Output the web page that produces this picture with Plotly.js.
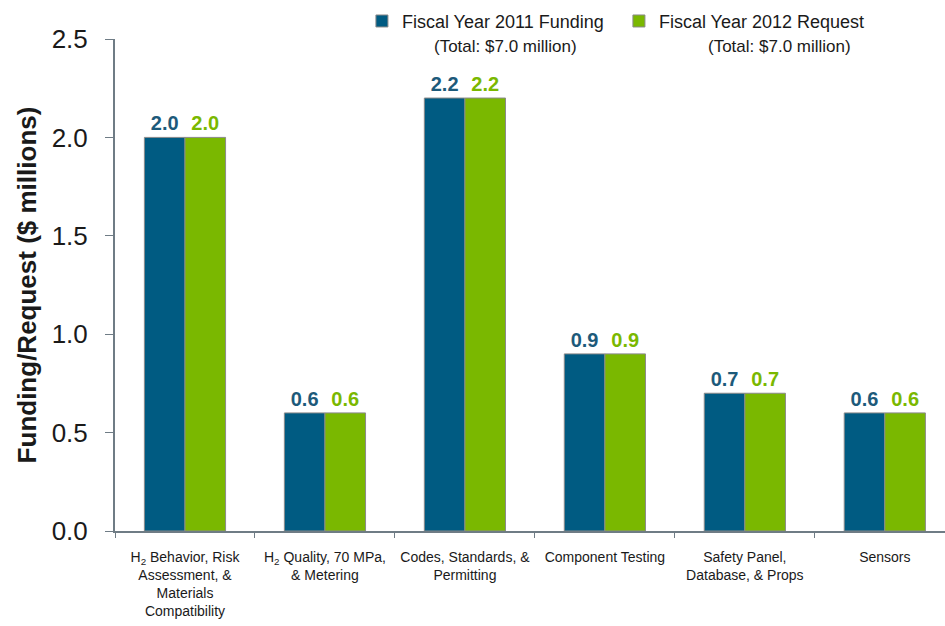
<!DOCTYPE html>
<html>
<head>
<meta charset="utf-8">
<script src="https://cdn.plot.ly/plotly-3.0.1.min.js"></script>
<style>body{margin:0;padding:0;}#chart{width:945px;height:626px;}</style>
</head>
<body>
<div id="chart"></div>
<script>
var categories = [
  "H<sub>2</sub> Behavior, Risk<br>Assessment, &<br>Materials<br>Compatibility",
  "H<sub>2</sub> Quality, 70 MPa,<br>& Metering",
  "Codes, Standards, &<br>Permitting",
  "Component Testing",
  "Safety Panel,<br>Database, & Props",
  "Sensors"
];
var fy2011 = [2.0, 0.6, 2.2, 0.9, 0.7, 0.6];
var fy2012 = [2.0, 0.6, 2.2, 0.9, 0.7, 0.6];
var seriesNames = ["Fiscal Year 2011 Funding", "Fiscal Year 2012 Request"];
var seriesTotals = ["(Total: $7.0 million)", "(Total: $7.0 million)"];
var yTicks = [0, 0.5, 1.0, 1.5, 2.0, 2.5];
var yTickLabels = ["0.0", "0.5", "1.0", "1.5", "2.0", "2.5"];

var FONT = "'Liberation Sans', Arial, sans-serif";
var BLUE = "#005b82";
var GREEN = "#7ab800";

function lbl(v){ return v.toFixed(1); }

var traces = [
  {
    type: "bar", x: categories, y: fy2011, name: seriesNames[0],
    marker: {color: BLUE, line: {color: "#8a8a8a", width: 1}},
    text: fy2011.map(lbl), textposition: "outside", cliponaxis: false,
    textfont: {family: FONT, size: 20, color: "#1d5a7a", weight: "bold"},
    hoverinfo: "none"
  },
  {
    type: "bar", x: categories, y: fy2012, name: seriesNames[1],
    marker: {color: GREEN, line: {color: "#8a8a8a", width: 1}},
    text: fy2012.map(lbl), textposition: "outside", cliponaxis: false,
    textfont: {family: FONT, size: 20, color: "#7ab800", weight: "bold"},
    hoverinfo: "none"
  }
];

var layout = {
  width: 945, height: 626,
  margin: {l: 115, r: 0, t: 39, b: 95, autoexpand: false},
  paper_bgcolor: "#ffffff", plot_bgcolor: "#ffffff",
  barmode: "group", bargap: 0.42, bargroupgap: 0,
  showlegend: true,
  legend: {
    orientation: "h", xref: "container", yref: "container",
    x: 0.383, xanchor: "left", y: 0.966, yanchor: "middle",
    font: {family: FONT, size: 18, color: "#1a1a1a"},
    itemwidth: 30, tracegroupgap: 0, entrywidth: 212, entrywidthmode: "pixels",
    bgcolor: "rgba(0,0,0,0)"
  },
  font: {family: FONT, color: "#1a1a1a"},
  xaxis: {
    type: "category", range: [-0.5, 5.43], automargin: false,
    showline: true, linecolor: "#6f7c85", linewidth: 2,
    ticks: "outside", ticklen: 5, tickcolor: "#6f7c85", tickson: "boundaries",
    tickangle: 0, ticklabelstandoff: 12,
    tickfont: {family: FONT, size: 14, color: "#1a1a1a"},
    showgrid: false, zeroline: false, fixedrange: true
  },
  yaxis: {
    range: [0, 2.5], tickvals: yTicks, ticktext: yTickLabels, automargin: false,
    showline: true, linecolor: "#6f7c85", linewidth: 2,
    ticks: "outside", ticklen: 8, tickcolor: "#6f7c85", ticklabelstandoff: 12,
    tickfont: {family: FONT, size: 26, color: "#1a1a1a"},
    showgrid: false, zeroline: false,
    title: {text: "Funding/Request ($ millions)", font: {family: FONT, size: 26, color: "#1a1a1a", weight: "bold"}, standoff: 8}
  },
  annotations: [
    {xref: "paper", yref: "paper", x: 0.47, y: 0.984, xanchor: "center", yanchor: "middle", showarrow: false,
     text: seriesTotals[0], font: {family: FONT, size: 17, color: "#1a1a1a"}},
    {xref: "paper", yref: "paper", x: 0.801, y: 0.984, xanchor: "center", yanchor: "middle", showarrow: false,
     text: seriesTotals[1], font: {family: FONT, size: 17, color: "#1a1a1a"}}
  ]
};

Plotly.newPlot("chart", traces, layout, {displayModeBar: false, staticPlot: true});
</script>
</body>
</html>
